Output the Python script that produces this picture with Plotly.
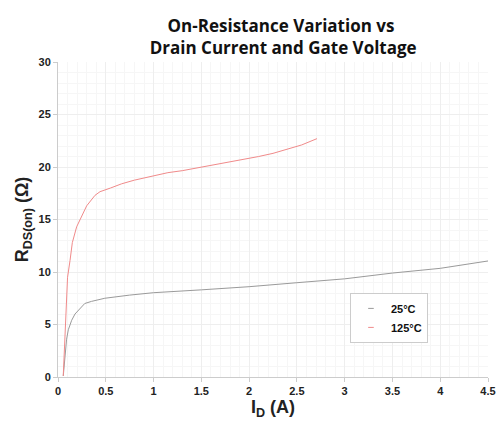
import plotly.graph_objects as go

# 25°C curve
id_25 = [0.055, 0.07, 0.09, 0.108, 0.143, 0.178, 0.23, 0.28, 0.35, 0.49, 0.75, 1.0, 1.5, 2.0, 2.5, 3.0, 3.5, 4.0, 4.5]
r_25 = [0.1, 2.0, 3.6, 4.5, 5.4, 6.0, 6.55, 7.0, 7.2, 7.5, 7.8, 8.03, 8.3, 8.6, 8.98, 9.35, 9.9, 10.35, 11.05]

# 125°C curve
id_125 = [0.055, 0.084, 0.1, 0.126, 0.15, 0.195, 0.25, 0.3, 0.387, 0.44, 0.55, 0.666, 0.8, 0.91, 1.0,
          1.15, 1.3, 1.5, 1.7, 1.94, 2.1, 2.25, 2.39, 2.55, 2.71]
r_125 = [0.1, 5.4, 9.5, 11.1, 12.8, 14.3, 15.4, 16.3, 17.3, 17.65, 18.0, 18.4, 18.75, 18.98, 19.2,
         19.46, 19.65, 19.97, 20.3, 20.7, 21.0, 21.3, 21.7, 22.1, 22.7]

series_names = ["25°C", "125°C"]
series_colors = ["#9a9a9a", "#f08a8a"]
x_ticks = [0, 0.5, 1, 1.5, 2, 2.5, 3, 3.5, 4, 4.5]
x_labels = ["0", "0.5", "1", "1.5", "2", "2.5", "3", "3.5", "4", "4.5"]
y_ticks = [0, 5, 10, 15, 20, 25, 30]

fig = go.Figure()
for xs, ys, name, col in [(id_25, r_25, series_names[0], series_colors[0]),
                          (id_125, r_125, series_names[1], series_colors[1])]:
    fig.add_trace(go.Scatter(x=xs, y=ys, mode="lines", name=name, legendgroup=name,
                             showlegend=False, line=dict(color=col, width=1)))
    # legend entry with a tiny dash symbol, like the reference
    fig.add_trace(go.Scatter(x=[None], y=[None], mode="markers", name=name, legendgroup=name,
                             marker=dict(symbol="line-ew", size=4, color=col,
                                         line=dict(color=col, width=1))))

tickfont = dict(family="Liberation Sans, Arial", size=11, color="#222", weight="bold")

fig.update_layout(
    width=500, height=423,
    margin=dict(l=58, r=12, t=62, b=46),
    paper_bgcolor="white", plot_bgcolor="white",
    title=dict(
        text="On-Resistance Variation vs<br> Drain Current and Gate Voltage",
        x=0.562, xanchor="center", y=0.925, yref="container", yanchor="middle",
        font=dict(family="Open Sans", size=17, color="#111", weight="bold"),
    ),
    xaxis=dict(
        range=[0, 4.5], tickvals=x_ticks, ticktext=x_labels, automargin=False,
        tickfont=tickfont, ticks="outside", ticklen=4, tickcolor="#ccc",
        showline=True, linecolor="#ccc", linewidth=1,
        showgrid=True, gridcolor="#eeeeee", gridwidth=1,
        minor=dict(dtick=0.1, showgrid=True, gridcolor="#f6f6f6", gridwidth=1),
        zeroline=False,
        title=dict(text="I<sub>D</sub> (A)", standoff=4,
                   font=dict(family="Liberation Sans, Arial", size=18, color="#222", weight="bold")),
    ),
    yaxis=dict(
        range=[0, 30], tickvals=y_ticks, automargin=False,
        tickfont=tickfont, ticks="outside", ticklen=4, tickcolor="#ccc",
        showline=True, linecolor="#ccc", linewidth=1,
        showgrid=True, gridcolor="#eeeeee", gridwidth=1,
        minor=dict(dtick=1, showgrid=True, gridcolor="#f6f6f6", gridwidth=1),
        zeroline=False,
        title=dict(text="R<sub>DS(on)</sub> (Ω)", standoff=5,
                   font=dict(family="Liberation Sans, Arial", size=18, color="#222", weight="bold")),
    ),
    legend=dict(
        x=0.679, y=0.267, xanchor="left", yanchor="top",
        bordercolor="#cccccc", borderwidth=1, bgcolor="white",
        font=dict(family="Liberation Sans, Arial", size=11, color="#111", weight="bold"),
        itemwidth=30, tracegroupgap=0,
    ),
    showlegend=True,
)

fig.write_html("out.html")
